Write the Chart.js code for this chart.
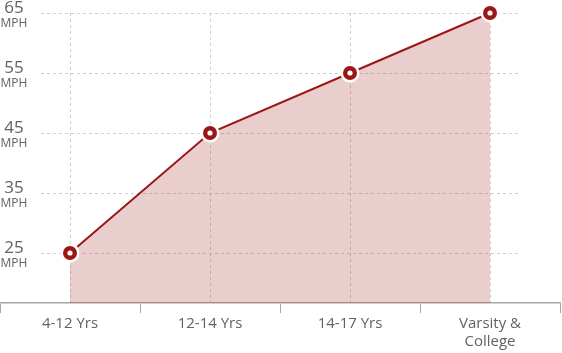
<!DOCTYPE html>
<html>
<head>
<meta charset="utf-8">
<script src="https://cdn.jsdelivr.net/npm/chart.js@4/dist/chart.umd.min.js"></script>
<style>
  html, body { margin: 0; padding: 0; background: #fff; }
  #wrap { width: 562px; height: 353px; position: relative; }
</style>
</head>
<body>
<div id="wrap"><canvas id="chart"></canvas></div>
<script>
// data
const categories = ['4-12 Yrs', '12-14 Yrs', '14-17 Yrs', ['Varsity &', 'College']];
const speeds = [25, 45, 55, 65];
const yTicks = [25, 35, 45, 55, 65];
const yUnit = 'MPH';

const RED = '#9c1616';
const TEXT = '#646160';
const GRID = '#cfcfcf';
const FONT = "'Open Sans', 'Noto Sans', sans-serif";

// marker: white halo, red ring, white centre
const marker = document.createElement('canvas');
marker.width = 20;
marker.height = 20;
(() => {
  const c = marker.getContext('2d');
  const circle = (r, col) => { c.beginPath(); c.arc(10, 10, r, 0, Math.PI * 2); c.fillStyle = col; c.fill(); };
  circle(9.5, '#ffffff');
  circle(7, RED);
  circle(2.6, '#ffffff');
})();

// y labels + dashed horizontal guides drawn inside the plot
const yGuides = {
  id: 'yGuides',
  beforeDatasetsDraw(chart) {
    const { ctx } = chart;
    const y = chart.scales.y;
    ctx.save();
    ctx.strokeStyle = GRID;
    ctx.lineWidth = 1;
    ctx.setLineDash([3, 3]);
    yTicks.forEach(v => {
      const py = Math.round(y.getPixelForValue(v)) + 0.5;
      ctx.beginPath();
      ctx.moveTo(41, py);
      ctx.lineTo(518, py);
      ctx.stroke();
    });
    ctx.setLineDash([]);
    ctx.fillStyle = TEXT;
    ctx.textAlign = 'center';
    ctx.textBaseline = 'alphabetic';
    yTicks.forEach(v => {
      const py = y.getPixelForValue(v);
      ctx.font = '500 17px ' + FONT;
      ctx.fillText(String(v), 14, py);
      ctx.font = '12px ' + FONT;
      ctx.fillText(yUnit, 14, py + 14);
    });
    ctx.restore();
  }
};

new Chart(document.getElementById('chart'), {
  type: 'line',
  data: {
    labels: categories,
    datasets: [{
      data: speeds,
      borderColor: RED,
      borderWidth: 2,
      backgroundColor: 'rgba(156, 22, 22, 0.21)',
      fill: 'start',
      tension: 0,
      pointStyle: marker,
      pointRadius: 10,
      pointHoverRadius: 10,
      clip: false
    }]
  },
  options: {
    responsive: true,
    maintainAspectRatio: false,
    animation: false,
    events: [],
    layout: { autoPadding: false, padding: { top: 13, left: 0, right: 2, bottom: 0 } },
    plugins: { legend: { display: false }, tooltip: { enabled: false } },
    scales: {
      x: {
        type: 'category',
        position: 'bottom',
        offset: true,
        grid: { offset: false, color: GRID, drawTicks: false },
        border: { display: false, dash: [3, 3] },
        ticks: { display: false },
        afterFit: s => { s.height = 0; }
      },
      x2: {
        type: 'category',
        position: 'bottom',
        labels: categories,
        offset: true,
        grid: { offset: true, drawOnChartArea: false, tickLength: 10, color: '#a9a69f' },
        border: { color: '#a9a69f', width: 1.5 },
        ticks: { color: TEXT, font: { family: FONT, size: 15, weight: '500' }, padding: 2, maxRotation: 0 },
        afterFit: s => { s.height = 50; }
      },
      y: {
        display: false,
        min: 25 - 50 / 6,
        max: 65
      }
    }
  },
  plugins: [yGuides]
});
</script>
</body>
</html>
